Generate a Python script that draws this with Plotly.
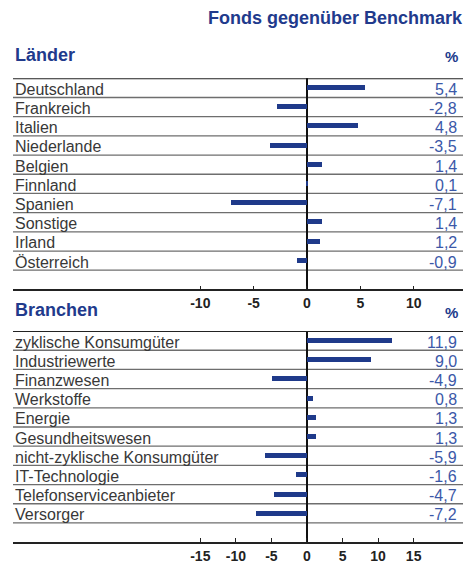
import plotly.graph_objects as go

# ---------------- data ----------------
laender = ["Deutschland", "Frankreich", "Italien", "Niederlande", "Belgien",
           "Finnland", "Spanien", "Sonstige", "Irland", "Österreich"]
laender_values = [5.4, -2.8, 4.8, -3.5, 1.4, 0.1, -7.1, 1.4, 1.2, -0.9]
laender_ticks = [-10, -5, 0, 5, 10]

branchen = ["zyklische Konsumgüter", "Industriewerte", "Finanzwesen", "Werkstoffe",
            "Energie", "Gesundheitswesen", "nicht-zyklische Konsumgüter",
            "IT-Technologie", "Telefonserviceanbieter", "Versorger"]
branchen_values = [11.9, 9.0, -4.9, 0.8, 1.3, 1.3, -5.9, -1.6, -4.7, -7.2]
branchen_ticks = [-15, -10, -5, 0, 5, 10, 15]

title_text = "Fonds gegenüber Benchmark"
panel_titles = ["Länder", "Branchen"]
unit = "%"

# ---------------- style ----------------
W, H = 470, 564
FONT = "Liberation Sans, Arial, sans-serif"
TITLE_BLUE = "#213a8c"
BAR_BLUE = "#1f3a8a"
VALUE_BLUE = "#3b58a8"
LABEL_GREY = "#383838"

def px_x(p):
    return p / W

def px_y(p):
    return 1 - p / H

fig = go.Figure()

panels = [
    dict(cats=laender, vals=laender_values, ticks=laender_ticks,
         xa="x", ya="y", top=79, bottom=292, xrange=[-27.56, 14.625]),
    dict(cats=branchen, vals=branchen_values, ticks=branchen_ticks,
         xa="x2", ya="y2", top=334, bottom=547, xrange=[-41.34, 21.94]),
]

shapes = []
annotations = []

for k, p in enumerate(panels):
    n = len(p["cats"])
    idx = list(range(n))
    fig.add_trace(go.Bar(
        x=p["vals"], y=idx, orientation="h", width=0.26,
        marker=dict(color=BAR_BLUE, line=dict(width=0)),
        xaxis=p["xa"], yaxis=p["ya"], showlegend=False, hoverinfo="skip",
    ))
    axname = "" if k == 0 else "2"
    fig.update_layout(**{
        "xaxis" + axname: dict(
            domain=[px_x(13), px_x(463)], range=p["xrange"],
            anchor=p["ya"], tickmode="array", tickvals=p["ticks"],
            ticktext=[str(t) for t in p["ticks"]],
            ticks="inside", ticklen=4, tickwidth=1.2, tickcolor="#222",
            showline=True, linecolor="#222", linewidth=1.5,
            showgrid=False, zeroline=True, zerolinecolor="#111", zerolinewidth=2,
            tickfont=dict(family=FONT, size=14, color="#222", weight="bold"),
            fixedrange=True,
        ),
        "yaxis" + axname: dict(
            domain=[px_y(p["bottom"]), px_y(p["top"])],
            range=[n + 0.5, -0.5], anchor=p["xa"],
            showticklabels=False, showgrid=False, zeroline=False,
            showline=False, ticks="", fixedrange=True,
        ),
    })
    xd = p["xa"] + " domain"
    # top separator (dark)
    shapes.append(dict(type="line", xref=xd, x0=0, x1=1, yref=p["ya"],
                       y0=-0.5, y1=-0.5, line=dict(color="#222", width=2),
                       layer="above"))
    # row separators
    for i in range(n):
        shapes.append(dict(type="line", xref=xd, x0=0, x1=1, yref=p["ya"],
                           y0=i + 0.5, y1=i + 0.5,
                           line=dict(color="#6e6e6e", width=1.3), layer="below"))
    # labels and values
    for i, (c, v) in enumerate(zip(p["cats"], p["vals"])):
        annotations.append(dict(text=c, xref="paper", x=px_x(13), xanchor="left",
                                yref=p["ya"], y=i, yanchor="middle", showarrow=False,
                                yshift=-1.5,
                                font=dict(family=FONT, size=16, color=LABEL_GREY)))
        annotations.append(dict(text=f"{v:.1f}".replace(".", ","), xref="paper",
                                x=px_x(459), xanchor="right", yref=p["ya"], y=i,
                                yanchor="middle", showarrow=False, yshift=-1.5,
                                font=dict(family=FONT, size=16, color=VALUE_BLUE)))

# titles
annotations.append(dict(text=f"<b>{title_text}</b>", xref="paper", yref="paper",
                        x=px_x(465), y=px_y(18), xanchor="right", yanchor="middle",
                        showarrow=False,
                        font=dict(family=FONT, size=18, color=TITLE_BLUE)))
for t, ypx, upx in [(panel_titles[0], 55, 57), (panel_titles[1], 313, 315)]:
    annotations.append(dict(text=f"<b>{t}</b>", xref="paper", yref="paper",
                            x=px_x(13), y=px_y(ypx), xanchor="left", yanchor="middle",
                            showarrow=False,
                            font=dict(family=FONT, size=18, color=TITLE_BLUE)))
    annotations.append(dict(text=f"<b>{unit}</b>", xref="paper", yref="paper",
                            x=px_x(460), y=px_y(upx), xanchor="right", yanchor="middle",
                            showarrow=False,
                            font=dict(family=FONT, size=15, color=TITLE_BLUE)))

fig.update_layout(
    width=W, height=H, margin=dict(l=0, r=0, t=0, b=0),
    paper_bgcolor="white", plot_bgcolor="white",
    shapes=shapes, annotations=annotations, bargap=0,
)

fig.write_html("out.html", config={"displayModeBar": False})
